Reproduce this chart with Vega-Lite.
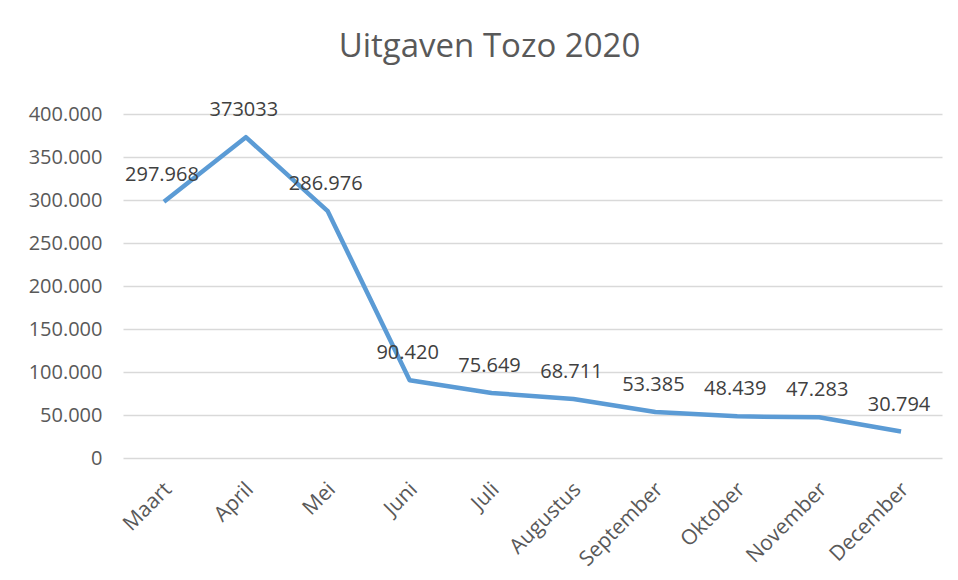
{
  "$schema": "https://vega.github.io/schema/vega-lite/v6.json",
  "width": 819,
  "height": 344,
  "autosize": {"type": "none"},
  "padding": {"left": 123, "top": 114, "right": 16, "bottom": 122},
  "background": "white",
  "config": {
    "view": {"stroke": null},
    "font": "Open Sans",
    "locale": {"number": {"decimal": ",", "thousands": ".", "grouping": [3], "currency": ["€", ""]}}
  },
  "title": {
    "text": "Uitgaven Tozo 2020",
    "fontSize": 33,
    "font": "Open Sans",
    "fontWeight": "normal",
    "color": "#595959",
    "anchor": "middle",
    "frame": "group",
    "dx": -43,
    "baseline": "alphabetic",
    "offset": 10
  },
  "data": {
    "values": [
      {"maand": "Maart", "bedrag": 297968, "label": "297.968"},
      {"maand": "April", "bedrag": 373033, "label": "373033"},
      {"maand": "Mei", "bedrag": 286976, "label": "286.976"},
      {"maand": "Juni", "bedrag": 90420, "label": "90.420"},
      {"maand": "Juli", "bedrag": 75649, "label": "75.649"},
      {"maand": "Augustus", "bedrag": 68711, "label": "68.711"},
      {"maand": "September", "bedrag": 53385, "label": "53.385"},
      {"maand": "Oktober", "bedrag": 48439, "label": "48.439"},
      {"maand": "November", "bedrag": 47283, "label": "47.283"},
      {"maand": "December", "bedrag": 30794, "label": "30.794"}
    ]
  },
  "encoding": {
    "x": {
      "field": "maand",
      "type": "nominal",
      "sort": null,
      "scale": {"paddingInner": 0, "paddingOuter": 0},
      "axis": {
        "title": null,
        "domain": false,
        "ticks": false,
        "labelAngle": -45,
        "labelAlign": "right",
        "labelBaseline": "middle",
        "labelPadding": 28,
        "labelOffset": 4,
        "labelFontSize": 21,
        "labelColor": "#595959",
        "labelFont": "Open Sans"
      }
    },
    "y": {
      "field": "bedrag",
      "type": "quantitative",
      "scale": {"domain": [0, 400000], "nice": false},
      "axis": {
        "title": null,
        "domain": false,
        "ticks": false,
        "values": [0, 50000, 100000, 150000, 200000, 250000, 300000, 350000, 400000],
        "format": ",d",
        "labelFontSize": 20,
        "labelColor": "#595959",
        "labelPadding": 21,
        "labelFont": "Open Sans",
        "gridColor": "#D9D9D9",
        "gridWidth": 1.5
      }
    }
  },
  "layer": [
    {
      "mark": {"type": "line", "color": "#5B9BD5", "strokeWidth": 4.5, "strokeJoin": "round", "strokeCap": "butt"}
    },
    {
      "mark": {"type": "text", "fontSize": 20, "color": "#404040", "dx": -2, "dy": -27, "font": "Open Sans"},
      "encoding": {"text": {"field": "label"}}
    }
  ]
}
